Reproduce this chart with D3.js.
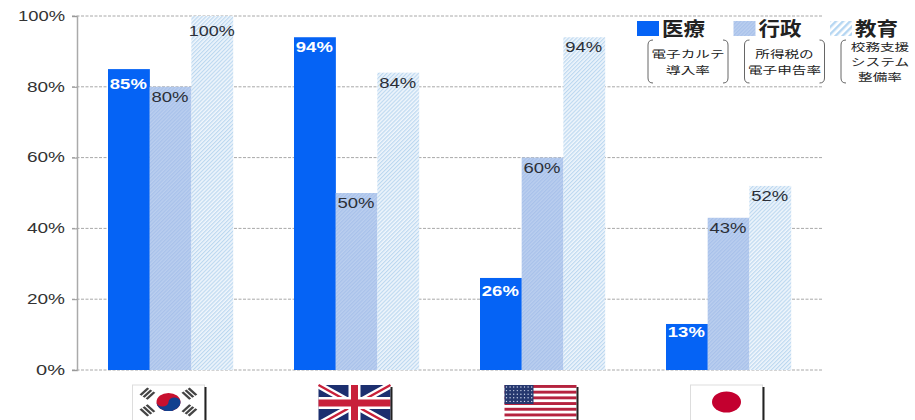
<!DOCTYPE html>
<html>
<head>
<meta charset="utf-8">
<script src="https://cdn.jsdelivr.net/npm/d3@7/dist/d3.min.js"></script>
<style>
html,body{margin:0;padding:0;background:#fff;}
svg{display:block;}
text{font-family:"Liberation Sans",Arial,sans-serif;}
.jp{font-family:"Noto Sans CJK JP",sans-serif;}
</style>
</head>
<body>
<div id="chart"></div>
<script>
// Digital adoption rates by country, in percent
const countries = ["韓国", "英国", "米国", "日本"];
const flagKeys = ["kr", "gb", "us", "jp"];
const seriesNames = ["医療", "行政", "教育"];
const medical = [85, 94, 26, 13];
const administration = [80, 50, 60, 43];
const education = [100, 84, 94, 52];
const yTicks = [0, 20, 40, 60, 80, 100];
const seriesNotes = [["電子カルテ", "導入率"], ["所得税の", "電子申告率"], ["校務支援", "システム", "整備率"]];

const W = 915, H = 420;
const svg = d3.select("#chart").append("svg").attr("width", W).attr("height", H);

const defs = svg.append("defs");
// Dense diagonal hatch for administration, lighter hatch for education
function hatch(id, size, bg, fg, stripe) {
  const p = defs.append("pattern").attr("id", id).attr("patternUnits", "userSpaceOnUse")
    .attr("width", size).attr("height", size).attr("patternTransform", "rotate(45)");
  p.append("rect").attr("width", size).attr("height", size).attr("fill", bg);
  p.append("rect").attr("width", stripe).attr("height", size).attr("fill", fg);
}
hatch("hatchAdmin", 2.6, "#bbcfef", "#a8c1ea", 1.2);
hatch("hatchEdu", 2.8, "#f0f6fc", "#bcd8f0", 1.2);
hatch("hatchEduLegend", 5, "#ffffff", "#b5d6f2", 2.4);

const y = d3.scaleLinear().domain([0, 100]).range([370, 16]);
const groupX = d3.scalePoint().domain(countries).range([108, 666]);
const barX = d3.scaleBand().domain(seriesNames).range([0, 125]);

const fills = { "医療": "#0563f5", "行政": "url(#hatchAdmin)", "教育": "url(#hatchEdu)" };
const valuesBySeries = { "医療": medical, "行政": administration, "教育": education };
const labelColors = { "医療": "#ffffff", "行政": "#2b2f38", "教育": "#2b2f38" };
// Baseline drop of each value label below its bar top
const medicalLabelDrop = [20, 15, 18, 13];
const labelDrop = (name, d, i) => name === "医療" ? medicalLabelDrop[i] : (d === 100 ? 20 : 15);

// Dotted gridlines and the y axis
svg.append("g").selectAll("line").data(yTicks).join("line")
  .attr("x1", 72).attr("x2", 822)
  .attr("y1", d => y(d)).attr("y2", d => y(d))
  .attr("stroke", "#a8a8a8").attr("stroke-width", 1).attr("stroke-dasharray", "3,1.5");

const axis = d3.axisLeft(y).tickValues(yTicks).tickFormat(d => d + "%").tickSize(5).tickPadding(7);
const axisG = svg.append("g").attr("transform", "translate(77,0)").call(axis);
axisG.select(".domain").attr("stroke", "#aaa").attr("stroke-width", 1.5);
axisG.selectAll(".tick line").attr("stroke", "#999");
axisG.selectAll("text").attr("font-size", 15.5).attr("fill", "#333")
  .attr("font-family", "Liberation Sans").attr("textLength", d => d === 100 ? 47 : d === 0 ? 29 : 38)
  .attr("lengthAdjust", "spacingAndGlyphs").attr("dy", "0.28em");

// Bars and value labels
seriesNames.forEach(name => {
  const vals = valuesBySeries[name];
  const g = svg.append("g");
  g.selectAll("rect").data(vals).join("rect")
    .attr("x", (d, i) => groupX(countries[i]) + barX(name))
    .attr("width", barX.bandwidth() + 0.2)
    .attr("y", d => y(d))
    .attr("height", d => y(0) - y(d))
    .attr("fill", fills[name]);
  g.selectAll("text").data(vals).join("text")
    .attr("x", (d, i) => groupX(countries[i]) + barX(name) + barX.bandwidth() / 2 - 0.5)
    .attr("y", (d, i) => y(d) + labelDrop(name, d, i))
    .attr("text-anchor", "middle")
    .attr("font-size", 15)
    .attr("font-weight", name === "医療" ? "bold" : "normal")
    .attr("fill", labelColors[name])
    .attr("textLength", d => d === 100 ? 46 : 37)
    .attr("lengthAdjust", "spacingAndGlyphs")
    .text(d => d + "%");
});

// Legend: swatches, series names and bracketed notes
const legendX = d3.scalePoint().domain(seriesNames).range([637, 830]);
const legend = svg.append("g");
const legendFills = { "医療": "#0563f5", "行政": "url(#hatchAdmin)", "教育": "url(#hatchEduLegend)" };
seriesNames.forEach((name, i) => {
  const lx = legendX(name);
  legend.append("rect").attr("x", lx).attr("y", 21).attr("width", 22).attr("height", 15).attr("fill", legendFills[name]);
  legend.append("text").attr("class", "jp").attr("x", lx + 25).attr("y", 35.5)
    .attr("font-size", 19).attr("font-weight", 700).attr("fill", "#222")
    .attr("textLength", 43).attr("lengthAdjust", "spacingAndGlyphs").text(name);

  const bx = lx + 11, bw = 80, by = 40, bh = 43;
  const lb = `M${bx + 5},${by}Q${bx},${by} ${bx},${by + 5}V${by + bh - 5}Q${bx},${by + bh} ${bx + 5},${by + bh}`;
  const rx = bx + bw;
  const rb = `M${rx - 5},${by}Q${rx},${by} ${rx},${by + 5}V${by + bh - 5}Q${rx},${by + bh} ${rx - 5},${by + bh}`;
  legend.append("path").attr("d", lb + rb).attr("fill", "none").attr("stroke", "#666").attr("stroke-width", 1);

  // Each note is one text element, broken into lines with tspans
  const lines = seriesNotes[i];
  const lh = 15.2;
  const top = by + bh / 2 - (lines.length - 1) * lh / 2 + 4.5;
  const cx = bx + bw / 2 + (i === 2 ? -1 : 0);
  const note = legend.append("text").attr("class", "jp")
    .attr("text-anchor", "middle").attr("font-size", 10.4).attr("fill", "#222");
  lines.forEach((t, k) => {
    note.append("tspan").attr("x", cx).attr("y", top + k * lh)
      .attr("textLength", t.length * 14.6).attr("lengthAdjust", "spacingAndGlyphs").text(t);
  });
});

// Country flags below the axis, running off the bottom of the page
const flagW = 72, flagH = 40, flagTop = 385;
const flagCenter = d => groupX(d) + 62;

function drawFlag(g, key) {
  if (key === "kr") {
    g.append("rect").attr("width", flagW).attr("height", flagH).attr("fill", "#fff").attr("stroke", "#ddd");
    const c = g.append("g").attr("transform", `translate(${flagW / 2},17) scale(1,0.76)`);
    c.append("circle").attr("r", 12).attr("fill", "#c8102e");
    c.append("path").attr("d", "M-12,0A12,12 0 0 0 12,0A6,6 0 0 0 0,0A6,6 0 0 1 -12,0Z").attr("fill", "#12408f");
    [[-21, -11, 40], [21, -11, -40], [-21, 11, -40], [21, 11, 40]].forEach(([tx, ty, a]) => {
      const t = c.append("g").attr("transform", `translate(${tx},${ty}) rotate(${a + 90})`);
      [-4, 0, 4].forEach(o => t.append("rect").attr("x", -6).attr("y", o - 1.2).attr("width", 12).attr("height", 2.6).attr("fill", "#444"));
    });
  } else if (key === "gb") {
    g.append("rect").attr("width", flagW).attr("height", flagH).attr("fill", "#1c2f6f");
    const d1 = `M0,0L${flagW},${flagH}M${flagW},0L0,${flagH}`;
    g.append("path").attr("d", d1).attr("stroke", "#fff").attr("stroke-width", 7);
    g.append("path").attr("d", d1).attr("stroke", "#c8203a").attr("stroke-width", 2.4);
    const d2 = `M${flagW / 2},0V${flagH}M0,${flagH / 2 - 2}H${flagW}`;
    g.append("path").attr("d", d2).attr("stroke", "#fff").attr("stroke-width", 12);
    g.append("path").attr("d", d2).attr("stroke", "#c8203a").attr("stroke-width", 7);
  } else if (key === "us") {
    g.append("rect").attr("width", flagW).attr("height", flagH).attr("fill", "#fff");
    d3.range(0, 7).forEach(k => g.append("rect").attr("y", k * 5.7).attr("width", flagW).attr("height", 2.9).attr("fill", "#b5233f"));
    g.append("rect").attr("width", 29).attr("height", 19).attr("fill", "#26386f");
    d3.range(0, 5).forEach(r => d3.range(0, 8).forEach(q =>
      g.append("circle").attr("cx", 2 + q * 3.6).attr("cy", 2 + r * 3.6).attr("r", 0.7).attr("fill", "#cfd6ea")));
  } else {
    g.append("rect").attr("width", flagW).attr("height", flagH).attr("fill", "#fff").attr("stroke", "#ddd");
    g.append("ellipse").attr("cx", flagW / 2).attr("cy", 17).attr("rx", 14.5).attr("ry", 10.5).attr("fill", "#c3002f");
  }
  g.append("rect").attr("x", flagW).attr("y", 2).attr("width", 2).attr("height", flagH).attr("fill", "#222");
}

flagKeys.forEach((key, i) => {
  const g = svg.append("g").attr("transform", `translate(${flagCenter(countries[i]) - flagW / 2 - 1.5},${flagTop})`);
  drawFlag(g, key);
});
</script>
</body>
</html>
